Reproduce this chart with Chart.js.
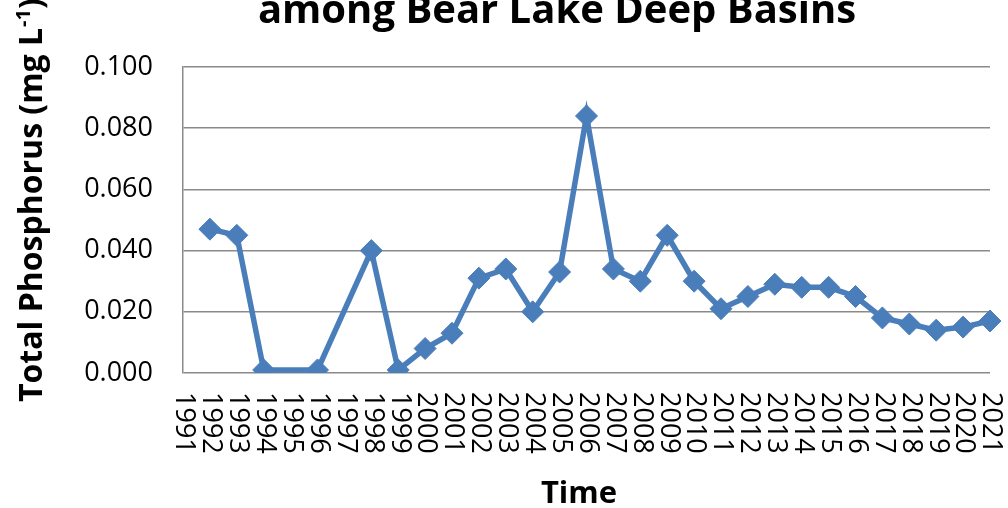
<!DOCTYPE html>
<html>
<head>
<meta charset="utf-8">
<script src="https://cdn.jsdelivr.net/npm/chart.js@4.4.1/dist/chart.umd.min.js"></script>
<style>
  body { margin: 0; background: #fff; }
  #wrap { width: 1008px; height: 508px; }
</style>
</head>
<body>
<div id="wrap"><canvas id="tpChart"></canvas></div>
<script>
const years = ['1991', '1992', '1993', '1994', '1995', '1996', '1997', '1998', '1999', '2000',
    '2001', '2002', '2003', '2004', '2005', '2006', '2007', '2008', '2009', '2010',
    '2011', '2012', '2013', '2014', '2015', '2016', '2017', '2018', '2019', '2020', '2021'];

// mg/L, null where no sample that year
const totalPhosphorus = [null, 0.047, 0.045, 0.001, null, 0.001, null, 0.040, 0.001, 0.008,
    0.013, 0.031, 0.034, 0.020, 0.033, 0.084, 0.034, 0.030, 0.045, 0.030,
    0.021, 0.025, 0.029, 0.028, 0.028, 0.025, 0.018, 0.016, 0.014, 0.015, 0.017];

const titleText = 'among Bear Lake Deep Basins';
const xTitle = 'Time';
const yTitle = 'Total Phosphorus (mg L';

const blue = '#4a7ebb';
const gray = '#8a8a8a';

// labels, axis titles and the (clipped) chart title
const textPlugin = {
    id: 'textPlugin',
    afterDraw(chart) {
        const ctx = chart.ctx;
        const xScale = chart.scales.x;
        ctx.save();
        ctx.fillStyle = '#000';

        // year labels, rotated clockwise
        ctx.font = '27px "Open Sans"';
        ctx.textAlign = 'left';
        ctx.textBaseline = 'middle';
        years.forEach((yr, i) => {
            const x = xScale.getPixelForTick(i);
            ctx.save();
            ctx.translate(x + 1, 392);
            ctx.rotate(Math.PI / 2);
            ctx.fillText(yr, 0, 0);
            ctx.restore();
        });

        // x axis title
        ctx.font = 'bold 31px "Open Sans"';
        ctx.textAlign = 'center';
        ctx.textBaseline = 'alphabetic';
        ctx.fillText(xTitle, 579, 503);

        // y axis title with superscript
        ctx.save();
        ctx.translate(42, 402);
        ctx.rotate(-Math.PI / 2);
        ctx.textAlign = 'left';
        ctx.font = 'bold 32px "Open Sans"';
        ctx.fillText(yTitle, 0, 0);
        let w = ctx.measureText(yTitle).width;
        ctx.font = 'bold 20px "Open Sans"';
        ctx.fillText('-1', w + 1, -12);
        w += ctx.measureText('-1').width + 1;
        ctx.font = 'bold 32px "Open Sans"';
        ctx.fillText(')', w, 0);
        ctx.restore();

        // chart title, top line is off the canvas
        ctx.font = 'bold 40px "Open Sans"';
        ctx.textAlign = 'center';
        ctx.fillText(titleText, 557, 23);
        ctx.restore();
    }
};

const ctx = document.getElementById('tpChart').getContext('2d');
new Chart(ctx, {
    type: 'line',
    data: {
        labels: years,
        datasets: [{
            label: 'Total Phosphorus',
            data: totalPhosphorus,
            borderColor: blue,
            backgroundColor: blue,
            borderWidth: 5.5,
            pointStyle: 'rectRot',
            pointRadius: 11,
            pointBackgroundColor: blue,
            pointBorderColor: blue,
            pointBorderWidth: 1,
            tension: 0,
            spanGaps: true
        }]
    },
    options: {
        responsive: true,
        maintainAspectRatio: false,
        animation: false,
        layout: { padding: { top: 67, right: 18, left: 0, bottom: 0 } },
        plugins: {
            legend: { display: false },
            tooltip: { enabled: false }
        },
        scales: {
            x: {
                offset: false,
                grid: { display: false },
                border: { display: false },
                ticks: { display: false },
                afterFit(scale) { scale.height = 135; }
            },
            y: {
                min: 0,
                max: 0.1,
                ticks: {
                    stepSize: 0.02,
                    padding: 30,
                    color: '#000',
                    font: { family: 'Open Sans', size: 27 },
                    callback: v => v.toFixed(3)
                },
                grid: { color: gray, lineWidth: 1.5, drawTicks: false },
                border: { display: true, color: gray, width: 1.5 },
                afterFit(scale) { scale.width = 183; }
            }
        }
    },
    plugins: [textPlugin]
});
</script>
</body>
</html>
